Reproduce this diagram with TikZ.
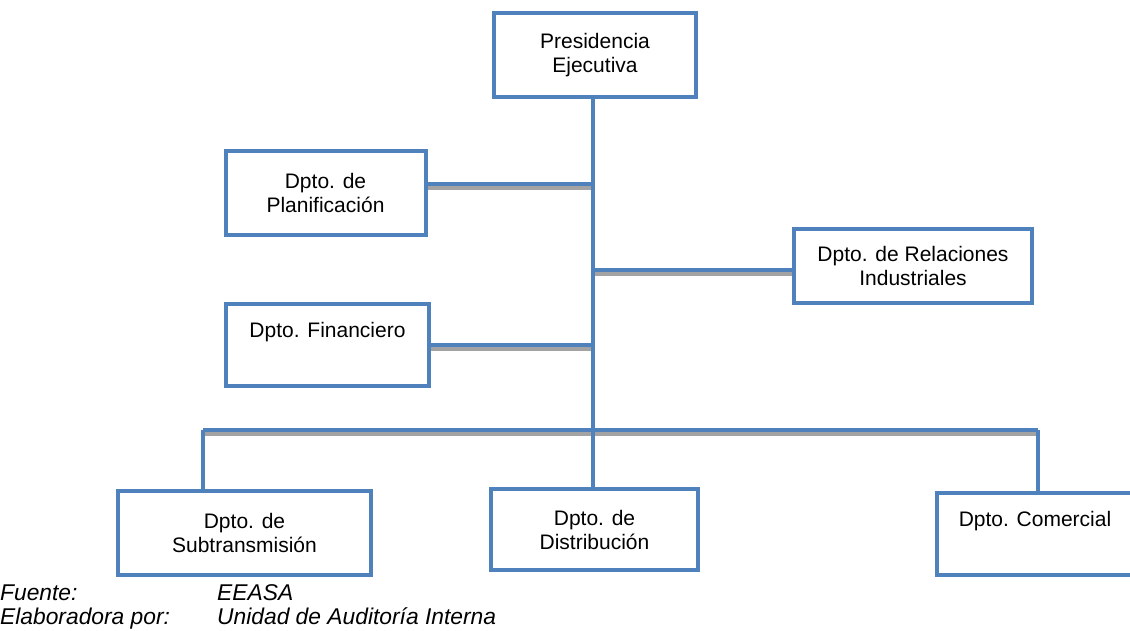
\documentclass[tikz,border=0pt]{standalone}
\usepackage{fontspec}
\setmainfont{Liberation Sans}
\usetikzlibrary{positioning,calc}
\definecolor{orgblue}{HTML}{4F81BD}
\definecolor{orgshadow}{HTML}{A3A3A3}

\begin{document}
\begin{tikzpicture}[
x=1pt,y=-1pt,
dept/.style={draw=orgblue, line width=4pt, fill=white, align=center, inner sep=0pt,
	font=\fontsize{21}{24}\selectfont},
link/.style={draw=orgblue, line width=4pt},
hlink/.style={link, preaction={draw=orgshadow, line width=4pt, transform canvas={yshift=-4pt}}},
note/.style={anchor=base west, inner sep=0pt, font=\fontsize{22.8}{25}\selectfont\itshape},
]
	\useasboundingbox (0,0) rectangle (1130,630);
	% boxes
	\node[dept, minimum width=202, minimum height=84] (pres) at (595,55) {Presidencia\\Ejecutiva}; %root
	\node[dept, minimum width=200, minimum height=84] (plan) at (325.5,193) {Dpto. de\\Planificación};
	\node[dept, minimum width=238, minimum height=74] (rel) at (913,266) {Dpto. de Relaciones\\Industriales};
	\node[dept, minimum width=203, minimum height=82] (fin) at (327.5,345) {Dpto. Financiero\\\strut};
	\node[dept, minimum width=253, minimum height=84] (subt) at (244.5,533) {Dpto. de\\Subtransmisión};
	\node[dept, minimum width=207, minimum height=81] (dist) at (594.5,529.5) {Dpto. de\\Distribución};
	\node[dept, minimum width=196, minimum height=82] (com) at (1035,534) {Dpto. Comercial\\\strut};

	% junctions on the trunk
	\coordinate (jplan) at (593,184);
	\coordinate (jrel) at (593,270);
	\coordinate (jfin) at (593,345);
	\coordinate (jbus) at (593,430);
	\coordinate (busl) at (203,430);
	\coordinate (busr) at (1038,430);

	% connectors
	\draw[hlink] (plan.east |- jplan) -- (jplan);
	\draw[hlink] (jrel) -- (rel.west |- jrel);
	\draw[hlink] (fin.east |- jfin) -- (jfin);
	\draw[hlink] (busl) -- (busr);
	\draw[link] (pres.south -| jplan) -- (jplan |- dist.north);
	\draw[link] (busl) -- (busl |- subt.north);
	\draw[link] (busr) -- (busr |- com.north);

	% source
	\node[note] (fte) at (0,600) {Fuente:};
	\node[note] (fteval) at (217,600) {EEASA};
	\node[note] (elab) at (0,624) {Elaboradora por:};
	\node[note] (elabval) at (217,624) {Unidad de Auditoría Interna};
\end{tikzpicture}
\end{document}
